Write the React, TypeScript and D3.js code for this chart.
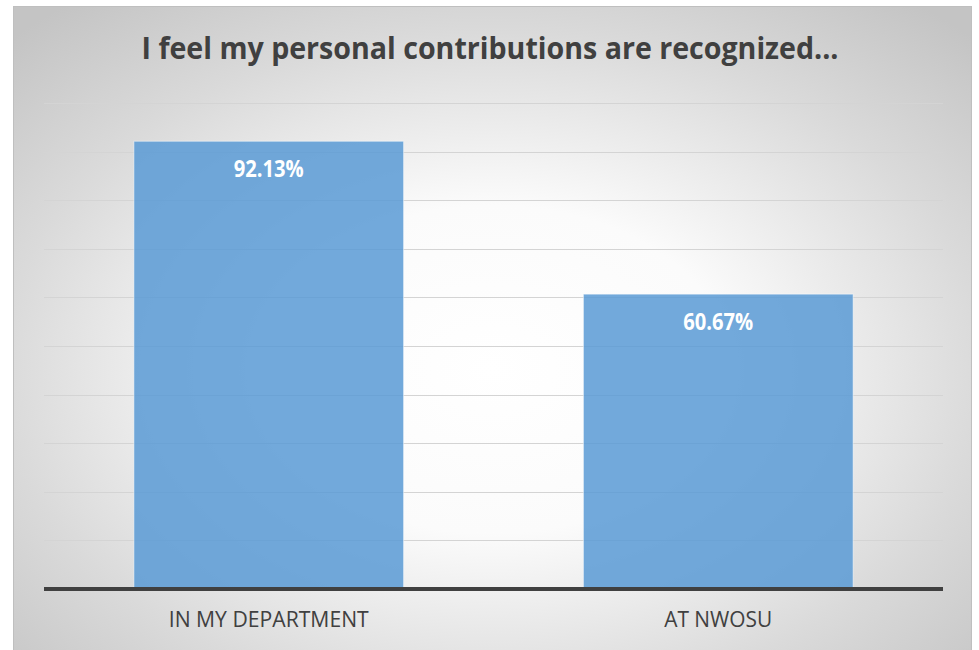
import React from 'react';
import * as d3 from 'd3';

const title = 'I feel my personal contributions are recognized...';
const categories = ['IN MY DEPARTMENT', 'AT NWOSU'];
const values = [92.13, 60.67];
const gridTicks = [10, 20, 30, 40, 50, 60, 70, 80, 90, 100];

const W = 979;
const H = 650;

export default function App() {
  const plot = { left: 44, right: 943, top: 103, bottom: 589 };

  const x = d3
    .scaleBand<string>()
    .domain(categories)
    .range([plot.left, plot.right])
    .paddingInner(0.4)
    .paddingOuter(0.2);

  const y = d3.scaleLinear().domain([0, 100]).range([plot.bottom, plot.top]);

  return (
    <svg
      width={W}
      height={H}
      style={{ position: 'absolute', left: 0, top: 0 }}
      fontFamily="'Open Sans', sans-serif"
    >
      <defs>
        <radialGradient id="bg-grad" cx="0.5" cy="0.55" r="0.71">
          <stop offset="0%" stopColor="#ffffff" />
          <stop offset="35%" stopColor="#fbfbfb" />
          <stop offset="72%" stopColor="#dadada" />
          <stop offset="100%" stopColor="#c4c4c4" />
        </radialGradient>
      </defs>
      <rect x={0} y={0} width={W} height={H} fill="#ffffff" />
      <rect
        x={13.5}
        y={6.5}
        width={958}
        height={660}
        fill="url(#bg-grad)"
        stroke="#bfbfbf"
        strokeWidth={1}
      />

      {/* title */}
      <text
        x={490}
        y={59}
        textAnchor="middle"
        fontSize={30}
        fontWeight="bold"
        fill="#404040"
        textLength={697}
        lengthAdjust="spacingAndGlyphs"
      >
        {title}
      </text>

      {/* gridlines */}
      {gridTicks.map(t => (
        <line
          key={t}
          x1={plot.left}
          x2={plot.right}
          y1={Math.round(y(t)) + 0.5}
          y2={Math.round(y(t)) + 0.5}
          stroke="#d4d4d4"
          strokeWidth={1}
        />
      ))}

      {/* bars */}
      {categories.map((c, i) => (
        <rect
          key={c}
          x={x(c)}
          y={y(values[i])}
          width={x.bandwidth()}
          height={y(0) - y(values[i])}
          fill="#5b9bd5"
          fillOpacity={0.86}
          stroke="#ffffff"
          strokeOpacity={0.5}
          strokeWidth={1}
        />
      ))}

      {/* baseline */}
      <line x1={plot.left} x2={plot.right} y1={y(0)} y2={y(0)} stroke="#404040" strokeWidth={4} />

      {/* value labels */}
      {categories.map((c, i) => (
        <text
          key={c}
          x={(x(c) ?? 0) + x.bandwidth() / 2}
          y={y(values[i]) + 36}
          textAnchor="middle"
          fontSize={24}
          fontWeight="bold"
          fill="#ffffff"
          textLength={70}
          lengthAdjust="spacingAndGlyphs"
        >
          {`${values[i].toFixed(2)}%`}
        </text>
      ))}

      {/* category labels */}
      {categories.map((c, i) => (
        <text
          key={c}
          x={(x(c) ?? 0) + x.bandwidth() / 2}
          y={627}
          textAnchor="middle"
          fontSize={21}
          fill="#404040"
          textLength={i === 0 ? 200 : 108}
          lengthAdjust="spacingAndGlyphs"
        >
          {c}
        </text>
      ))}
    </svg>
  );
}
